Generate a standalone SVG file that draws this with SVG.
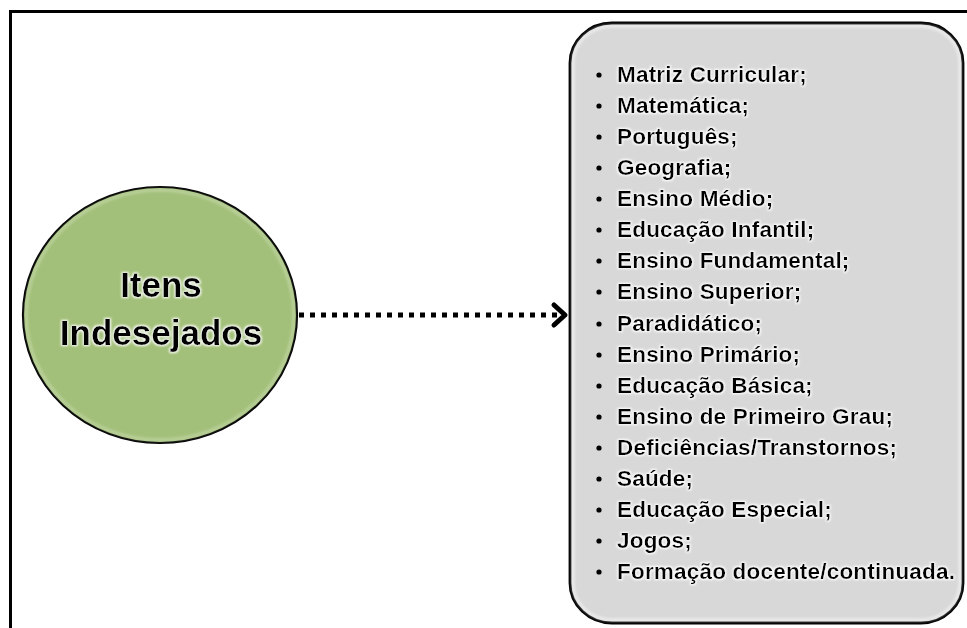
<svg xmlns="http://www.w3.org/2000/svg" width="967" height="628" viewBox="0 0 967 628">
<defs>
<filter id="glow" x="-10%" y="-30%" width="120%" height="160%">
<feMorphology in="SourceAlpha" operator="dilate" radius="1" result="d"/>
<feGaussianBlur in="d" stdDeviation="1.3" result="b"/>
<feFlood flood-color="#ffffff"/>
<feComposite in2="b" operator="in" result="w"/>
<feMerge><feMergeNode in="w"/><feMergeNode in="SourceGraphic"/></feMerge>
</filter>
<filter id="inner" x="-5%" y="-5%" width="110%" height="110%">
<feGaussianBlur stdDeviation="1.5"/>
</filter>
</defs>
<style>
.frame{fill:none;stroke:#000;stroke-width:3}
.title{font-family:"Liberation Sans",Arial,sans-serif;font-weight:bold;font-size:35px;fill:#000;text-anchor:middle}
.item{font-family:"Liberation Sans",Arial,sans-serif;font-weight:bold;font-size:22.5px;letter-spacing:0.2px;fill:#000}
.dot{fill:#000}
.conn{fill:none;stroke:#000;stroke-width:5}
</style>
<path class="frame" d="M10.5,628 V11.5 H967"/>
<g id="node-itens">
<ellipse cx="160" cy="315" rx="137" ry="128" fill="#a3c07a" stroke="#000" stroke-width="2.2"/>
<ellipse cx="160" cy="315" rx="134" ry="125" fill="none" stroke="#d8e6c4" stroke-width="2" opacity="0.7" filter="url(#inner)"/>
<g filter="url(#glow)">
<text class="title" x="161" y="297">Itens</text>
<text class="title" x="161" y="345">Indesejados</text>
</g>
</g>
<g id="connectors">
<line class="conn" x1="299" y1="315" x2="558" y2="315" stroke-dasharray="5 6"/>
<polyline class="conn" points="554,305 565,315 554,325" stroke-linecap="round" stroke-linejoin="round"/>
</g>
<g id="node-lista">
<rect x="570" y="23" width="393" height="600" rx="42" ry="40" fill="#d8d8d8" stroke="#000" stroke-width="2.8"/>
<rect x="573" y="26" width="387" height="594" rx="39" ry="37" fill="none" stroke="#ffffff" stroke-width="2" opacity="0.8" filter="url(#inner)"/>
<g class="dot">
<circle cx="599" cy="75" r="2.6"/><circle cx="599" cy="106" r="2.6"/><circle cx="599" cy="137" r="2.6"/><circle cx="599" cy="168" r="2.6"/><circle cx="599" cy="199" r="2.6"/><circle cx="599" cy="230" r="2.6"/><circle cx="599" cy="261" r="2.6"/><circle cx="599" cy="292" r="2.6"/><circle cx="599" cy="324" r="2.6"/><circle cx="599" cy="355" r="2.6"/><circle cx="599" cy="386" r="2.6"/><circle cx="599" cy="417" r="2.6"/><circle cx="599" cy="448" r="2.6"/><circle cx="599" cy="479" r="2.6"/><circle cx="599" cy="510" r="2.6"/><circle cx="599" cy="541" r="2.6"/><circle cx="599" cy="572" r="2.6"/>
</g>
<g filter="url(#glow)">
<text class="item" x="617" y="82">Matriz Curricular;</text>
<text class="item" x="617" y="113">Matemática;</text>
<text class="item" x="617" y="144">Português;</text>
<text class="item" x="617" y="175">Geografia;</text>
<text class="item" x="617" y="206">Ensino Médio;</text>
<text class="item" x="617" y="237">Educação Infantil;</text>
<text class="item" x="617" y="268">Ensino Fundamental;</text>
<text class="item" x="617" y="299">Ensino Superior;</text>
<text class="item" x="617" y="331">Paradidático;</text>
<text class="item" x="617" y="362">Ensino Primário;</text>
<text class="item" x="617" y="393">Educação Básica;</text>
<text class="item" x="617" y="424">Ensino de Primeiro Grau;</text>
<text class="item" x="617" y="455">Deficiências/Transtornos;</text>
<text class="item" x="617" y="486">Saúde;</text>
<text class="item" x="617" y="517">Educação Especial;</text>
<text class="item" x="617" y="548">Jogos;</text>
<text class="item" x="617" y="579">Formação docente/continuada.</text>
</g>
</g>
</svg>
